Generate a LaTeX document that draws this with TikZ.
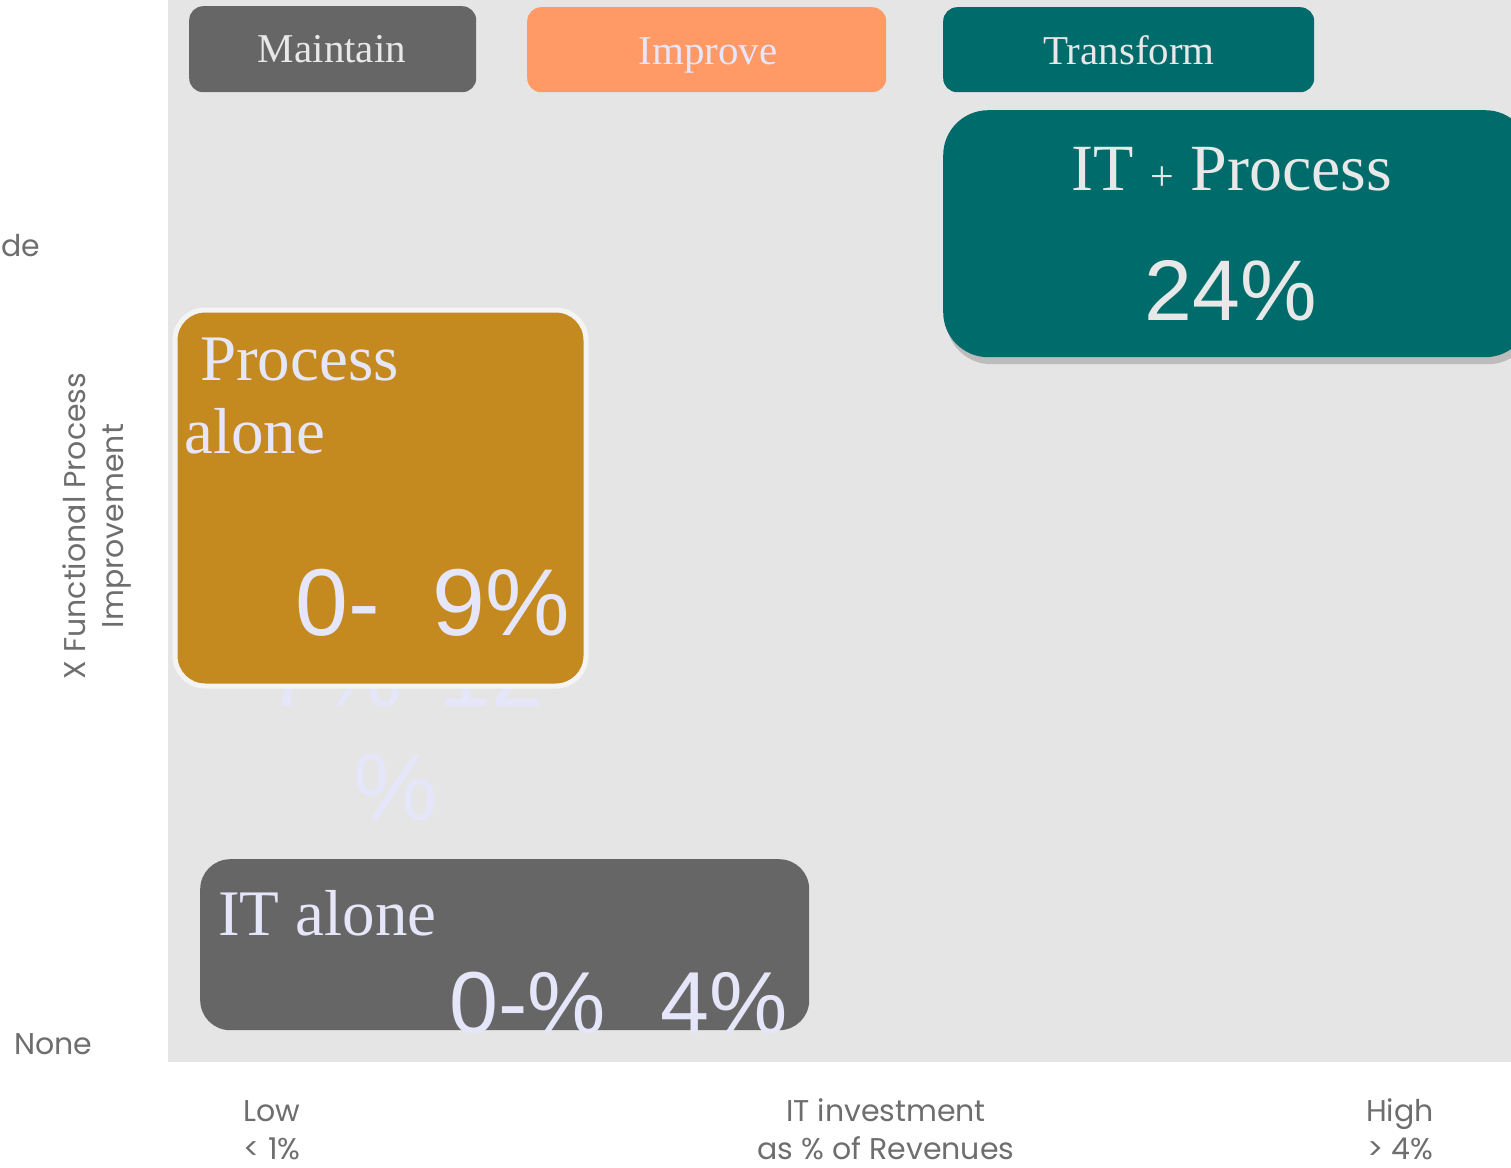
\documentclass[tikz,border=0pt]{standalone}
\usepackage{fontspec}
\setmainfont{Liberation Serif}
\newfontfamily\axisfont{Poppins}
\newfontfamily\numfont{Liberation Sans}
\usetikzlibrary{shadows}
\definecolor{panelgray}{HTML}{E5E5E5}
\definecolor{darkgray}{HTML}{666666}
\definecolor{peach}{HTML}{FF9966}
\definecolor{teal}{HTML}{006B6B}
\definecolor{ochre}{HTML}{C48A20}
\definecolor{lav}{HTML}{E6E6FA}
\definecolor{lightg}{HTML}{E8E8E8}
\definecolor{axisgray}{HTML}{6E6E6E}
\definecolor{rimwhite}{HTML}{F4F4F4}
\tikzset{
  btn/.style={fill=#1, rounded corners=14pt, anchor=north west, inner sep=0pt},
  bigbox/.style={fill=#1, anchor=north west, inner sep=0pt},
  btntext/.style={text=#1, font=\fontsize{41}{48}\selectfont, anchor=base, inner sep=0pt},
  serifbig/.style={text=#1, font=\fontsize{65}{72}\selectfont, anchor=base west, inner sep=0pt},
  axislabel/.style={text=axisgray, font=\axisfont\fontsize{30}{38}\selectfont, inner sep=0pt, align=center},
}
\begin{document}
\begin{tikzpicture}[x=1pt,y=-1pt]
\useasboundingbox (0,0) rectangle (1511,1167);
\fill[panelgray] (168,0) rectangle (1511,1062);

% top category buttons
\node[btn=darkgray, minimum width=287pt, minimum height=86pt] (maintain) at (189,6) {};
\node[btntext=lightg] (maintainT) at (332,62) {Maintain};
\node[btn=peach, minimum width=359pt, minimum height=85pt] (improve) at (527,7) {};
\node[btntext=lav] (improveT) at (708,64) {Improve};
\node[btn=teal, minimum width=371pt, minimum height=85pt] (transform) at (943,7) {};
\node[btntext=lightg] (transformT) at (1129,64) {Transform};

% overflow text, mostly hidden behind the Process alone box
\node[text=lav, font=\numfont\fontsize{95}{100}\selectfont, anchor=base west, inner sep=0pt] (hid1) at (265,706) {7\%\hspace{36pt}12};
\node[text=lav, font=\numfont\fontsize{95}{100}\selectfont, anchor=base west, inner sep=0pt] (hid2) at (353,820) {\%};

% Process alone
\node[bigbox=ochre, draw=rimwhite, line width=5pt, rounded corners=30pt, minimum width=411pt, minimum height=376pt] (procbox) at (172.5,307.5) {};
\node[serifbig=lav] (procT1) at (200,380) {Process};
\node[serifbig=lav] (procT2) at (184,453) {alone};
\node[text=lav, font=\numfont\fontsize{95}{100}\selectfont, anchor=base west, inner sep=0pt] (procN) at (295,635) {0-\hspace{53pt}9\%};

% IT + Process
\node[bigbox=teal, rounded corners=45pt, minimum width=587pt, minimum height=247pt,
      drop shadow={shadow xshift=3pt, shadow yshift=-7pt, opacity=0.4, fill=black!50}] (itpbox) at (943,110) {};
\node[text=lightg, font=\fontsize{66}{72}\selectfont, anchor=base, inner sep=0pt] (itpT) at (1232,190) {IT {\fontsize{42}{48}\selectfont+} Process};
\node[text=lightg, font=\numfont\fontsize{86}{90}\selectfont, anchor=base, inner sep=0pt] (itpN) at (1231,320) {24\%};

% IT alone
\node[bigbox=darkgray, rounded corners=30pt, minimum width=609pt, minimum height=171pt] (itbox) at (200,859) {};
\node[serifbig=lav] (itT) at (218,935) {IT alone};
\begin{scope}
\clip (150,900) rectangle (900,1032);
\node[text=lav, font=\numfont\fontsize{88}{92}\selectfont, anchor=base west, inner sep=0pt] (itN) at (449,1033) {0-\%\hspace{55pt}4\%};
\end{scope}

% axis labels
\node[axislabel, anchor=base west] (de) at (1,256) {de};
\node[axislabel, anchor=base west] (none) at (14,1054) {None};
\node[axislabel, rotate=90] (ylab) at (97,526) {X Functional Process\\Improvement};
\node[axislabel, anchor=base] (low) at (272,1159) {Low\\{<} 1\%};
\node[axislabel, anchor=base] (mid) at (886,1159) {IT investment\\as \% of Revenues};
\node[axislabel, anchor=base] (high) at (1400,1159) {High\\{>} 4\%};
\end{tikzpicture}
\end{document}
